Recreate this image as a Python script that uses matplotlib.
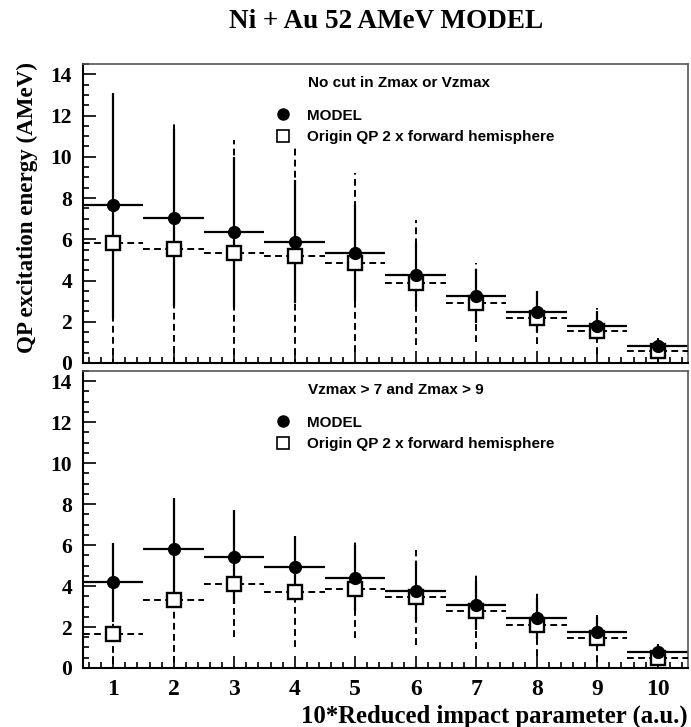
import matplotlib
matplotlib.use("Agg")
import matplotlib.pyplot as plt
from matplotlib.lines import Line2D
from matplotlib.ticker import MultipleLocator

# 10*reduced impact parameter bins
bins = [1, 2, 3, 4, 5, 6, 7, 8, 9, 10]

# top panel: no cut
model_top = [7.64, 7.05, 6.34, 5.89, 5.35, 4.27, 3.25, 2.49, 1.81, 0.80]
model_top_err = [5.45, 4.3, 3.67, 3.0, 2.32, 1.55, 1.3, 1.0, 0.7, 0.35]
origin_top = [5.84, 5.52, 5.33, 5.21, 4.87, 3.90, 2.93, 2.20, 1.55, 0.60]
origin_top_err = [6.5, 6.1, 5.5, 5.37, 4.34, 3.04, 1.91, 1.3, 1.1, 0.63]

# bottom panel: Vzmax > 7 and Zmax > 9
model_bot = [4.18, 5.82, 5.41, 4.91, 4.39, 3.76, 3.07, 2.42, 1.77, 0.77]
model_bot_err = [1.93, 2.46, 2.3, 1.53, 1.6, 1.4, 1.2, 1.0, 0.7, 0.35]
origin_bot = [1.66, 3.32, 4.11, 3.69, 3.84, 3.45, 2.80, 2.10, 1.45, 0.50]
origin_bot_err = [2.0, 3.6, 2.58, 2.65, 2.4, 2.31, 1.85, 1.54, 1.14, 0.67]

headings = ["No cut in Zmax or Vzmax", "Vzmax > 7 and Zmax > 9"]

serif = "Liberation Serif"
sans = "Liberation Sans"

fig = plt.figure(figsize=(6.91, 7.27), dpi=100)
ax_top = fig.add_axes([0.1201, 0.5007, 0.8755, 0.4113])
ax_bot = fig.add_axes([0.1201, 0.0812, 0.8755, 0.4085])


def draw_panel(ax, model, model_err, origin, origin_err, heading, show_xlabels):
    half = [0.5] * len(bins)
    eb_m = ax.errorbar(bins, model, yerr=model_err, xerr=half, fmt="none",
                       ecolor="black", elinewidth=1.6, capsize=0, zorder=2)
    eb_o = ax.errorbar(bins, origin, yerr=origin_err, xerr=half, fmt="none",
                       ecolor="black", elinewidth=1.4, capsize=0, zorder=3)
    for lc in eb_o[2]:
        lc.set_linestyle((0, (3.5, 2.2)))
    ax.plot(bins, origin, "s", ms=9.5, mfc="white", mec="black", mew=1.7,
            ls="none", zorder=4)
    ax.plot(bins, model, "o", ms=8.5, color="black", ls="none", zorder=5)

    ax.set_xlim(0.5, 10.5)
    ax.set_ylim(0, 14.5)
    ax.xaxis.set_major_locator(MultipleLocator(1))
    ax.xaxis.set_minor_locator(MultipleLocator(0.2))
    ax.yaxis.set_major_locator(MultipleLocator(2))
    ax.yaxis.set_minor_locator(MultipleLocator(0.5))
    ax.tick_params(which="both", direction="in", top=False, right=False,
                   width=1.2, pad=8)
    ax.tick_params(which="major", length=9)
    ax.tick_params(which="minor", length=4.5)
    for lab in ax.get_yticklabels():
        lab.set_fontfamily(serif)
        lab.set_fontweight("bold")
        lab.set_fontsize(15.5)
    for lab in ax.get_xticklabels():
        lab.set_fontfamily(serif)
        lab.set_fontweight("bold")
        lab.set_fontsize(17)
    if not show_xlabels:
        ax.set_xticklabels([])
    for side in ["left", "bottom"]:
        ax.spines[side].set_linewidth(1.5)
    for side in ["top", "right"]:
        ax.spines[side].set_linewidth(1.2)
        ax.spines[side].set_color("#555555")

    ax.text(0.372, 0.935, heading, transform=ax.transAxes, fontfamily=sans,
            fontweight="bold", fontsize=11, va="center", ha="left")
    handles = [
        Line2D([], [], marker="o", ls="none", color="black", ms=8),
        Line2D([], [], marker="s", ls="none", mfc="white", mec="black",
               mew=1.2, ms=8),
    ]
    ax.legend(handles, ["MODEL", "Origin QP 2 x forward hemisphere"],
              loc="upper left", bbox_to_anchor=(0.318, 0.85), frameon=False,
              borderpad=0, borderaxespad=0, handlelength=1.0,
              handletextpad=1.1, labelspacing=0.5,
              prop={"family": sans, "weight": "bold", "size": 11})


draw_panel(ax_top, model_top, model_top_err, origin_top, origin_top_err,
           headings[0], False)
draw_panel(ax_bot, model_bot, model_bot_err, origin_bot, origin_bot_err,
           headings[1], True)

fig.text(0.5586, 0.961, "Ni + Au 52 AMeV MODEL", ha="center", va="baseline",
         fontfamily=serif, fontweight="bold", fontsize=19.5)
fig.text(0.04, 0.714, "QP excitation energy (AMeV)", rotation=90,
         ha="center", va="center", fontfamily=serif, fontweight="bold",
         fontsize=16.6)
fig.text(0.9957, 0.0055, "10*Reduced impact parameter (a.u.)", ha="right",
         va="baseline", fontfamily=serif, fontweight="bold", fontsize=17.8)

fig.savefig("out.png", dpi=100)
